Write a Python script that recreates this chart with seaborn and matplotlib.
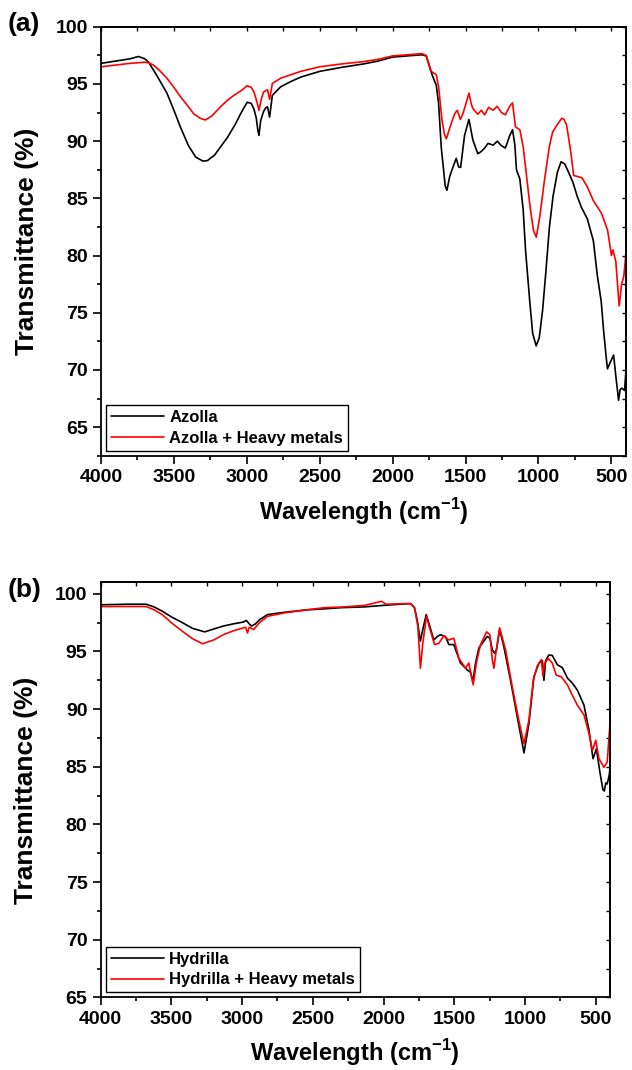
import numpy as np
import pandas as pd
import matplotlib
matplotlib.use("Agg")
import matplotlib.pyplot as plt
import seaborn as sb
from matplotlib.ticker import MultipleLocator

# ---- data (wavenumber cm-1, transmittance %) ----
azolla_wn = [4000, 3900, 3800, 3743, 3700, 3674, 3620, 3548, 3500, 3456, 3400, 3350, 3300, 3270,
             3220, 3180, 3134, 3078, 3030, 2997, 2970, 2951, 2935, 2925, 2917, 2905, 2885, 2871,
             2858, 2844, 2832, 2825, 2768, 2700, 2630, 2500, 2350, 2200, 2100, 2000, 1900, 1800,
             1770, 1740, 1724, 1701, 1685, 1667, 1651, 1640, 1628, 1609, 1593, 1564, 1548, 1534,
             1507, 1477, 1450, 1416, 1392, 1369, 1346, 1311, 1282, 1254, 1227, 1197, 1178, 1162,
             1151, 1128, 1105, 1089, 1060, 1040, 1016, 995, 972, 950, 925, 900, 870, 845, 820,
             791, 764, 735, 707, 665, 624, 596, 570, 554, 535, 527, 510, 485, 470, 451, 440, 428,
             410, 400]
azolla_t = [96.8, 97.0, 97.2, 97.4, 97.2, 96.9, 95.8, 94.2, 92.7, 91.25, 89.6, 88.6, 88.25, 88.3,
            88.8, 89.5, 90.3, 91.5, 92.7, 93.4, 93.3, 92.8, 92.0, 91.0, 90.5, 91.8, 92.6, 92.9,
            93.0, 92.1, 93.3, 94.0, 94.75, 95.2, 95.6, 96.1, 96.45, 96.75, 97.0, 97.35, 97.45, 97.55,
            97.45, 96.2, 95.6, 94.9, 93.3, 89.5, 87.5, 86.1, 85.7, 86.9, 87.5, 88.5, 87.75, 87.7,
            90.5, 91.9, 90.1, 88.9, 89.1, 89.4, 89.8, 89.65, 90.0, 89.6, 89.4, 90.5, 91.0, 89.65,
            87.5, 86.7, 84.0, 80.5, 76.0, 73.2, 72.1, 72.8, 75.2, 78.5, 82.5, 85.2, 87.3, 88.2, 88.0,
            87.2, 86.4, 85.2, 84.25, 83.2, 81.3, 78.2, 76.0, 73.5, 71.0, 70.1, 70.6, 71.3, 69.5, 67.35,
            68.3, 68.4, 68.2, 70.0]

azolla_hm_wn = [4000, 3900, 3800, 3700, 3674, 3640, 3600, 3548, 3500, 3456, 3400, 3365, 3320, 3284,
                3240, 3181, 3130, 3089, 3040, 2997, 2970, 2951, 2930, 2917, 2900, 2885, 2871, 2858,
                2844, 2832, 2825, 2768, 2700, 2630, 2500, 2350, 2200, 2100, 2000, 1900, 1800, 1770,
                1736, 1701, 1685, 1662, 1645, 1632, 1615, 1598, 1575, 1557, 1536, 1518, 1495, 1477,
                1462, 1450, 1416, 1392, 1369, 1342, 1311, 1284, 1254, 1227, 1197, 1178, 1158, 1128,
                1105, 1089, 1060, 1035, 1015, 990, 960, 926, 903, 869, 840, 825, 807, 778, 759, 730,
                702, 665, 624, 568, 526, 500, 490, 470, 447, 430, 415, 405, 400]
azolla_hm_t = [96.5, 96.65, 96.8, 96.9, 96.85, 96.65, 96.2, 95.5, 94.7, 93.9, 93.0, 92.4, 92.0, 91.85,
               92.2, 93.0, 93.6, 94.0, 94.4, 94.85, 94.7, 94.3, 93.4, 92.7, 93.7, 94.3, 94.4, 94.5,
               93.65, 94.5, 95.05, 95.5, 95.8, 96.1, 96.5, 96.75, 96.95, 97.15, 97.45, 97.55, 97.65, 97.5,
               96.1, 95.8, 94.75, 91.85, 90.6, 90.2, 90.9, 91.55, 92.4, 92.7, 91.9, 92.4, 93.4, 94.2,
               93.3, 92.85, 92.35, 92.7, 92.3, 92.95, 92.7, 93.05, 92.5, 92.3, 93.05, 93.35, 91.25, 91.0,
               89.5, 87.75, 84.5, 82.2, 81.6, 83.5, 86.5, 89.5, 90.8, 91.5, 92.0, 91.9, 91.4, 89.0, 87.0, 86.9,
               86.8, 86.0, 84.8, 83.7, 82.2, 80.0, 80.5, 79.5, 75.6, 77.5, 78.2, 79.5, 80.5]

hydrilla_wn = [4000, 3800, 3679, 3620, 3565, 3500, 3422, 3350, 3264, 3200, 3134, 3060, 2991, 2971,
               2950, 2934, 2905, 2877, 2820, 2700, 2550, 2419, 2300, 2131, 2000, 1845, 1810, 1782,
               1763, 1740, 1723, 1699, 1674, 1645, 1620, 1598, 1563, 1539, 1504, 1457, 1409, 1386,
               1369, 1350, 1327, 1268, 1249, 1232, 1216, 1202, 1180, 1150, 1103, 1055, 1008, 973,
               938, 902, 878, 867, 855, 832, 808, 772, 737, 701, 666, 631, 584, 549, 520, 496, 471,
               450, 440, 430, 420, 405, 400]
hydrilla_t = [99.05, 99.1, 99.1, 98.85, 98.5, 98.0, 97.5, 97.0, 96.7, 96.95, 97.2, 97.4, 97.55, 97.7,
              97.4, 97.2, 97.4, 97.75, 98.2, 98.4, 98.6, 98.7, 98.8, 98.87, 99.0, 99.13, 99.15, 98.8,
              97.75, 95.9, 96.9, 98.2, 97.2, 96.0, 96.3, 96.45, 96.3, 95.6, 95.6, 94.0, 93.4, 93.2,
              92.4, 94.0, 95.3, 96.3, 96.15, 95.15, 94.85, 95.15, 96.9, 95.4, 92.5, 89.3, 86.2, 88.75,
              92.8, 94.0, 94.2, 92.5, 94.2, 94.7, 94.65, 93.85, 93.6, 92.7, 92.25, 91.65, 90.35, 88.2,
              85.7, 86.55, 84.5, 83.0, 82.9, 83.6, 83.5, 84.3, 85.0]

hydrilla_hm_wn = [4000, 3800, 3679, 3620, 3565, 3500, 3422, 3350, 3280, 3200, 3134, 3060, 3020, 2975,
                  2962, 2950, 2919, 2877, 2820, 2700, 2550, 2419, 2300, 2131, 2016, 1980, 1845, 1810,
                  1782, 1758, 1740, 1723, 1697, 1674, 1640, 1610, 1575, 1539, 1504, 1468, 1421, 1398,
                  1367, 1343, 1315, 1272, 1249, 1232, 1221, 1206, 1180, 1138, 1091, 1044, 1008, 973,
                  942, 914, 885, 874, 862, 836, 808, 780, 744, 701, 666, 631, 584, 549, 524, 501, 478,
                  443, 420, 400]
hydrilla_hm_t = [98.9, 98.9, 98.9, 98.6, 98.2, 97.5, 96.75, 96.1, 95.67, 96.0, 96.45, 96.8, 96.95, 97.1,
                 96.6, 97.1, 96.9, 97.5, 98.05, 98.35, 98.6, 98.8, 98.85, 99.0, 99.35, 99.1, 99.15, 99.15,
                 98.8, 97.2, 93.55, 95.7, 98.05, 97.0, 95.6, 95.7, 96.35, 96.0, 96.15, 94.4, 93.55, 94.0,
                 92.1, 94.1, 95.6, 96.7, 96.45, 94.3, 93.55, 94.9, 97.05, 95.15, 91.95, 89.0, 87.0, 89.05,
                 92.5, 93.75, 94.3, 92.9, 94.0, 94.4, 94.0, 92.95, 92.8, 92.1, 91.2, 90.35, 89.5, 87.9,
                 86.4, 87.3, 85.7, 84.95, 85.4, 88.75]

sb.set_theme(style="ticks")
plt.rcParams["font.family"] = ["Liberation Sans", "DejaVu Sans"]
plt.rcParams["font.weight"] = "bold"
plt.rcParams["axes.labelweight"] = "bold"
plt.rcParams["text.color"] = "black"
plt.rcParams["axes.labelcolor"] = "black"
plt.rcParams["xtick.color"] = "black"
plt.rcParams["ytick.color"] = "black"
plt.rcParams["axes.edgecolor"] = "black"
plt.rcParams["mathtext.fontset"] = "custom"
plt.rcParams["mathtext.rm"] = "Liberation Sans:bold"
plt.rcParams["mathtext.bf"] = "Liberation Sans:bold"

fig = plt.figure(figsize=(6.32, 10.7), dpi=100)
ax1 = fig.add_axes([0.1598, 0.5741, 0.8307, 0.4009])
ax2 = fig.add_axes([0.1592, 0.0679, 0.806, 0.3879])


def draw_panel(ax, wn1, t1, lab1, wn2, t2, lab2, ylim):
    d1 = pd.DataFrame({"wn": wn1, "t": t1})
    d2 = pd.DataFrame({"wn": wn2, "t": t2})
    sb.lineplot(data=d1, x="wn", y="t", ax=ax, color="black", lw=1.2, label=lab1, estimator=None)
    sb.lineplot(data=d2, x="wn", y="t", ax=ax, color="#ff0000", lw=1.2, label=lab2, estimator=None)
    ax.set_xlim(4000, 400)
    ax.set_ylim(*ylim)
    ax.xaxis.set_major_locator(MultipleLocator(500))
    ax.xaxis.set_minor_locator(MultipleLocator(250))
    ax.yaxis.set_major_locator(MultipleLocator(5))
    ax.yaxis.set_minor_locator(MultipleLocator(2.5))
    ax.tick_params(which="major", direction="out", length=5.5, width=1.2, labelsize=14, pad=4)
    ax.tick_params(which="minor", direction="out", length=3, width=1.2)
    for s in ax.spines.values():
        s.set_linewidth(1.3)
        s.set_color("black")
        s.set_visible(True)
    # mirrored inner ticks on top and right
    top = ax.secondary_xaxis("top")
    top.xaxis.set_major_locator(MultipleLocator(500))
    top.xaxis.set_minor_locator(MultipleLocator(250))
    top.tick_params(which="both", direction="in", length=3, width=1.0, labeltop=False)
    right = ax.secondary_yaxis("right")
    right.yaxis.set_major_locator(MultipleLocator(5))
    right.yaxis.set_minor_locator(MultipleLocator(2.5))
    right.tick_params(which="both", direction="in", length=3, width=1.0, labelright=False)
    for lab in ax.get_xticklabels() + ax.get_yticklabels():
        lab.set_fontweight("bold")
    ax.set_xlabel("Wavelength (cm$^{\\mathbf{-1}}$)", fontsize=17, fontweight="bold", labelpad=7)
    ax.set_ylabel("Transmittance (%)", fontsize=19, fontweight="bold", labelpad=12)
    leg = ax.legend(loc="lower left", frameon=True, fancybox=False, edgecolor="black",
                    prop={"weight": "bold", "size": 12}, handlelength=3.2, handletextpad=0.3,
                    borderaxespad=0.3, borderpad=0.3, labelspacing=0.35)
    leg.get_frame().set_linewidth(1.0)
    leg.get_frame().set_alpha(1)


draw_panel(ax1, azolla_wn, azolla_t, "Azolla", azolla_hm_wn, azolla_hm_t, "Azolla + Heavy metals", (62.5, 100))
draw_panel(ax2, hydrilla_wn, hydrilla_t, "Hydrilla", hydrilla_hm_wn, hydrilla_hm_t,
           "Hydrilla + Heavy metals", (65, 101))

fig.text(0.012, 1 - 24 / 1070, "(a)", fontsize=19, fontweight="bold", va="center", ha="left")
fig.text(0.012, 1 - 590 / 1070, "(b)", fontsize=19, fontweight="bold", va="center", ha="left")

fig.savefig("out.png", dpi=100)
